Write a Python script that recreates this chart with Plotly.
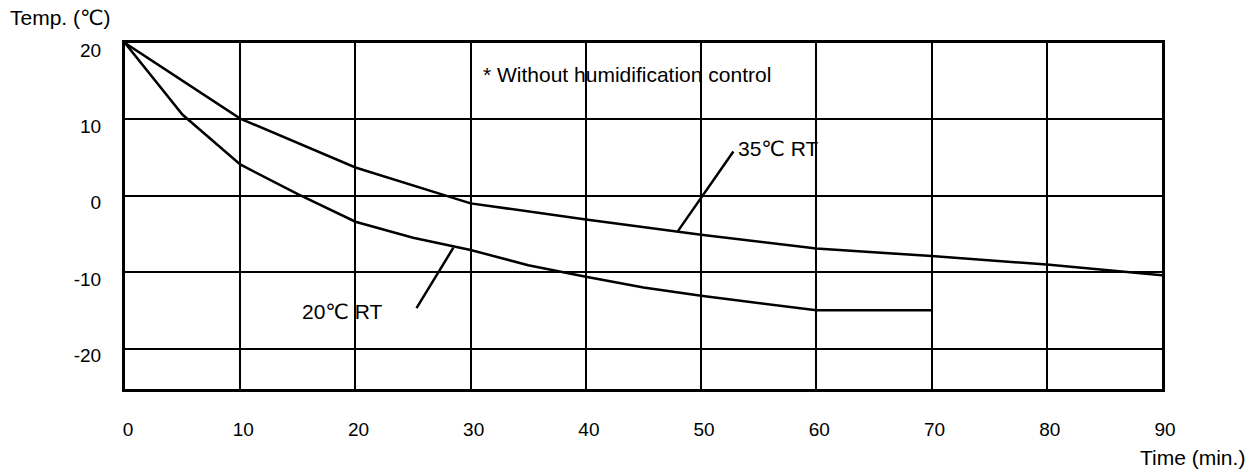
import plotly.graph_objects as go

# ---- data ----
time_35 = [0, 10, 20, 30, 40, 50, 60, 70, 80, 90]
temp_35 = [20, 10.1, 3.7, -1.0, -3.1, -5.1, -6.9, -7.9, -9.0, -10.4]

time_20 = [0, 5, 10, 15, 20, 25, 30, 35, 40, 45, 50, 60, 70]
temp_20 = [20, 10.6, 4.1, 0.2, -3.4, -5.5, -7.1, -9.1, -10.6, -12.0, -13.1, -15.0, -15.0]

# leader lines (label -> curve), in data units
leader_35_t = [48.0, 52.8]
leader_35_T = [-4.6, 5.8]
leader_20_t = [28.5, 25.3]
leader_20_T = [-6.8, -14.7]

x_ticks = [0, 10, 20, 30, 40, 50, 60, 70, 80, 90]
y_ticks = [20, 10, 0, -10, -20]

label_35 = "35\u2103 RT"
label_20 = "20\u2103 RT"
note_text = "* Without humidification control"
y_title = "Temp. (\u2103)"
x_title = "Time (min.)"

FONT = "Liberation Sans, Arial, DejaVu Sans, sans-serif"
line_style = dict(color="black", width=2.5)

fig = go.Figure()
fig.add_trace(go.Scatter(x=time_35, y=temp_35, mode="lines", line=line_style, hoverinfo="skip"))
fig.add_trace(go.Scatter(x=time_20, y=temp_20, mode="lines", line=line_style, hoverinfo="skip"))
fig.add_trace(go.Scatter(x=leader_35_t, y=leader_35_T, mode="lines", line=line_style, hoverinfo="skip"))
fig.add_trace(go.Scatter(x=leader_20_t, y=leader_20_T, mode="lines", line=line_style, hoverinfo="skip"))

fig.update_layout(
    width=1260, height=472,
    margin=dict(l=125, r=98, t=43, b=83),
    paper_bgcolor="white", plot_bgcolor="white",
    showlegend=False,
    font=dict(family=FONT, color="black", size=19),
    xaxis=dict(
        range=[0, 90], tickvals=x_ticks, ticktext=[str(v) for v in x_ticks],
        showgrid=True, gridcolor="black", gridwidth=2,
        showline=True, linecolor="black", linewidth=3, mirror=True,
        zeroline=False, ticks="", ticklabelstandoff=21, ticklabelshift=3,
        tickfont=dict(size=19),
    ),
    yaxis=dict(
        range=[-25.3, 20], tickvals=y_ticks, ticktext=[str(v) for v in y_ticks],
        showgrid=True, gridcolor="black", gridwidth=2,
        showline=True, linecolor="black", linewidth=3, mirror=True,
        zeroline=False, ticks="", ticklabelstandoff=17, ticklabelshift=7,
        tickfont=dict(size=19),
    ),
)

fig.add_annotation(x=30.9, y=15.9, xref="x", yref="y", text=note_text, showarrow=False,
                   xanchor="left", yanchor="middle", font=dict(size=21))
fig.add_annotation(x=53.0, y=6.25, xref="x", yref="y", text=label_35, showarrow=False,
                   xanchor="left", yanchor="middle", font=dict(size=21))
fig.add_annotation(x=15.2, y=-15.2, xref="x", yref="y", text=label_20, showarrow=False,
                   xanchor="left", yanchor="middle", font=dict(size=21))
fig.add_annotation(x=-0.113, y=1.074, xref="paper", yref="paper", text=y_title, showarrow=False,
                   xanchor="left", yanchor="middle", font=dict(size=21))
fig.add_annotation(x=0.977, y=-0.199, xref="paper", yref="paper", text=x_title, showarrow=False,
                   xanchor="left", yanchor="middle", font=dict(size=21))

fig.write_html("out.html")
